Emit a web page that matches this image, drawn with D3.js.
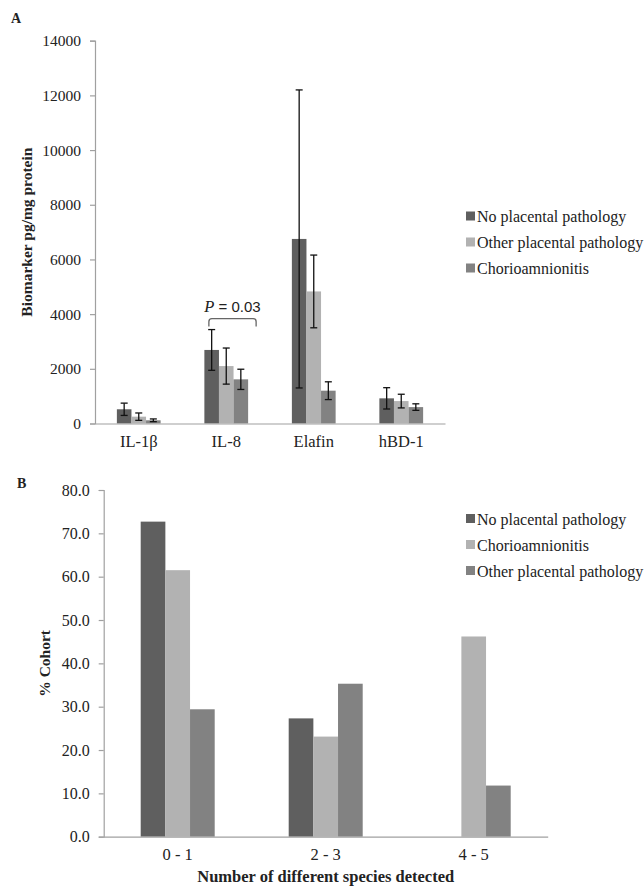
<!DOCTYPE html>
<html>
<head>
<meta charset="utf-8">
<script src="https://cdn.jsdelivr.net/npm/d3@7"></script>
<style>
  html, body { margin: 0; padding: 0; background: #fff; }
  svg { display: block; }
  text { font-family: "Liberation Serif", "Times New Roman", serif; fill: #222; }
</style>
</head>
<body>
<svg id="chart" width="644" height="886"></svg>
<script>
// ---------- Panel A data ----------
const catsA = ["IL-1β", "IL-8", "Elafin", "hBD-1"];
const seriesA = ["No placental pathology", "Other placental pathology", "Chorioamnionitis"];
const noPathA    = [520, 2690, 6750, 920];
const otherPathA = [250, 2100, 4830, 820];
const chorioA    = [117, 1615, 1200, 600];
const noPathErrA    = [225, 745, 5450, 390];
const otherPathErrA = [135, 660, 1330, 250];
const chorioErrA    = [50, 370, 325, 120];
const ticksA = [0, 2000, 4000, 6000, 8000, 10000, 12000, 14000];

// ---------- Panel B data ----------
const catsB = ["0 - 1", "2 - 3", "4 - 5"];
const seriesB = ["No placental pathology", "Chorioamnionitis", "Other placental pathology"];
const noPathB = [72.7, 27.3, 0];
const chorioB = [61.5, 23.1, 46.2];
const otherPathB = [29.4, 35.3, 11.8];
const ticksB = [0, 10, 20, 30, 40, 50, 60, 70, 80];

const DARK = "#5f5f5f", LIGHT = "#b2b2b2", MID = "#828282";
const AXIS = "#a0a0a0";

const svg = d3.select("#chart");
svg.append("rect").attr("width", 644).attr("height", 886).attr("fill", "#fff");

function drawPanel(cfg) {
  const g = svg.append("g");
  const x0 = d3.scaleBand().domain(cfg.cats).range([cfg.left, cfg.right]).padding(0);
  const x1 = d3.scaleBand().domain(d3.range(cfg.series.length))
    .range([0, x0.bandwidth()]).paddingInner(0).paddingOuter(1.5);
  const y = d3.scaleLinear().domain(cfg.domain).range([cfg.bottom, cfg.top]);

  // Y axis
  const yAxis = d3.axisLeft(y).tickValues(cfg.ticks).tickSize(5).tickPadding(9)
    .tickFormat(cfg.fmt);
  const ya = g.append("g").attr("transform", `translate(${cfg.left},0)`).call(yAxis);
  ya.select(".domain").attr("stroke", AXIS).attr("stroke-width", 1.2);
  ya.selectAll(".tick line").attr("stroke", AXIS).attr("stroke-width", 1.2);
  ya.selectAll(".tick text").style("font-family", "Liberation Serif").style("font-size", cfg.tickSize).attr("fill", "#333");

  // Bars
  cfg.values.forEach((vals, si) => {
    g.append("g").selectAll("rect").data(vals).join("rect")
      .attr("x", (d, i) => x0(cfg.cats[i]) + x1(si))
      .attr("y", d => y(d))
      .attr("width", x1.bandwidth())
      .attr("height", d => y(0) - y(d))
      .attr("fill", cfg.colors[si]);
  });

  // Error bars
  if (cfg.errs) {
    cfg.errs.forEach((errs, si) => {
      errs.forEach((e, i) => {
        const v = cfg.values[si][i];
        const cx = x0(cfg.cats[i]) + x1(si) + x1.bandwidth() / 2;
        const eg = g.append("g").attr("stroke", "#111").attr("stroke-width", 1.3);
        eg.append("line").attr("x1", cx).attr("x2", cx).attr("y1", y(v + e)).attr("y2", y(v - e));
        eg.append("line").attr("x1", cx - 3.5).attr("x2", cx + 3.5).attr("y1", y(v + e)).attr("y2", y(v + e));
        eg.append("line").attr("x1", cx - 3.5).attr("x2", cx + 3.5).attr("y1", y(v - e)).attr("y2", y(v - e));
      });
    });
  }

  // X axis baseline
  const xAxis = d3.axisBottom(x0).tickSize(0).tickPadding(12);
  const xa = g.append("g").attr("transform", `translate(0,${cfg.bottom})`).call(xAxis);
  xa.select(".domain").attr("stroke", AXIS).attr("stroke-width", 1.2);
  xa.selectAll(".tick text").style("font-family", "Liberation Serif").style("font-size", "16.5px").attr("fill", "#222");

  // Y label
  g.append("text")
    .attr("transform", `translate(${cfg.ylabelX},${(cfg.top + cfg.bottom) / 2}) rotate(-90)`)
    .attr("text-anchor", "middle")
    .style("font-weight", "bold").style("font-size", "15.5px").attr("fill", "#111")
    .text(cfg.ylabel);

  // Legend
  const lg = g.append("g");
  cfg.series.forEach((s, i) => {
    const yy = cfg.legendY + i * 26;
    lg.append("rect").attr("x", 466).attr("y", yy - 5).attr("width", 9).attr("height", 9).attr("fill", cfg.colors[i]);
    lg.append("text").attr("x", 477).attr("y", yy + 5.5).style("font-size", "16px").attr("fill", "#222").text(s);
  });

  // Panel letter
  g.append("text").attr("x", cfg.letterX).attr("y", cfg.letterY)
    .style("font-weight", "bold").style("font-size", "14px").attr("fill", "#111").text(cfg.letter);

  return { x0, x1, y, g };
}

const A = drawPanel({
  cats: catsA, series: seriesA,
  values: [noPathA, otherPathA, chorioA],
  errs: [noPathErrA, otherPathErrA, chorioErrA],
  colors: [DARK, LIGHT, MID],
  left: 95, right: 445, top: 40.7, bottom: 423.5,
  domain: [0, 14000], ticks: ticksA, fmt: d3.format("d"), tickSize: "15.5px",
  ylabel: "Biomarker pg/mg protein", ylabelX: 32,
  legendY: 216.5, letter: "A", letterX: 11, letterY: 23
});

// P-value bracket over IL-8
{
  const { x0, x1, y, g } = A;
  const gs = x0("IL-8") + x1(0);
  const ge = x0("IL-8") + x1(2) + x1.bandwidth();
  const xl = gs + 4.5;
  const xr = ge + 8;
  const yt = 318.7, yb = 326.5, r = 3;
  g.append("path")
    .attr("d", `M${xl},${yb} L${xl},${yt + r} Q${xl},${yt} ${xl + r},${yt} L${xr - r},${yt} Q${xr},${yt} ${xr},${yt + r} L${xr},${yb}`)
    .attr("fill", "none").attr("stroke", "#666").attr("stroke-width", 1.3);
  const t = g.append("text").attr("x", (xl + xr) / 2).attr("y", 311.5).attr("text-anchor", "middle")
    .style("font-size", "16.5px").attr("fill", "#222");
  t.append("tspan").style("font-style", "italic").text("P");
  t.append("tspan").style("font-family", "Liberation Sans, Arial, sans-serif").style("font-size", "15px").text(" = 0.03");
}

const B = drawPanel({
  cats: catsB, series: seriesB,
  values: [noPathB, chorioB, otherPathB],
  colors: [DARK, LIGHT, MID],
  left: 103.7, right: 547.7, top: 490, bottom: 836.7,
  domain: [0, 80], ticks: ticksB, fmt: d3.format(".1f"), tickSize: "16px",
  ylabel: "% Cohort", ylabelX: 50,
  legendY: 519, letter: "B", letterX: 17, letterY: 488
});

svg.append("text").attr("x", (103.7 + 547.7) / 2).attr("y", 881.5)
  .attr("text-anchor", "middle").style("font-weight", "bold").style("font-size", "16.5px")
  .attr("fill", "#111").text("Number of different species detected");
</script>
</body>
</html>
